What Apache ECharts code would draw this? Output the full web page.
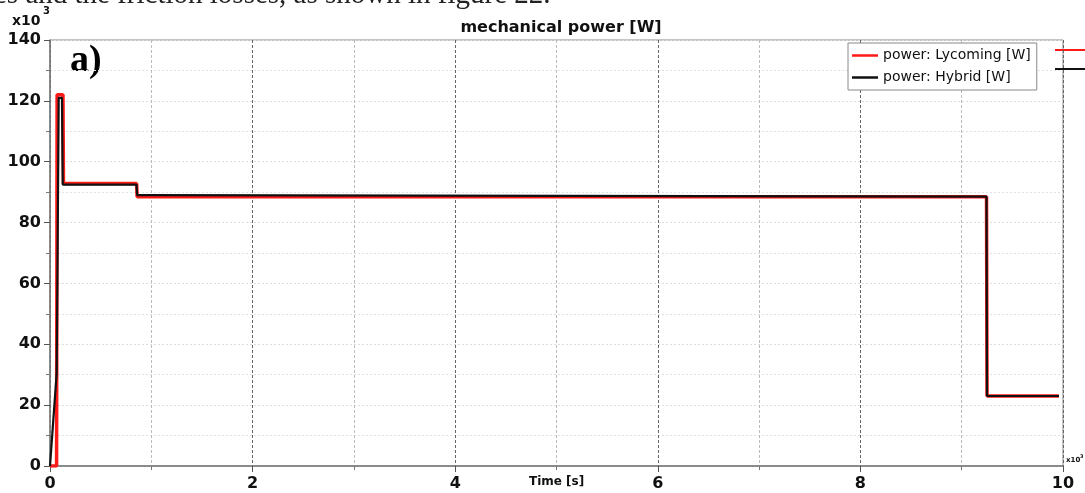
<!DOCTYPE html>
<html>
<head>
<meta charset="utf-8">
<script src="https://cdn.jsdelivr.net/npm/echarts@6/dist/echarts.min.js"></script>
<style>html,body{margin:0;padding:0;background:#fff}#c{width:1085px;height:493px}</style>
</head>
<body>
<div id="c"></div>
<script>
// Time in seconds, power in W x 10^3
const lycomingTime  = [0, 65, 70, 128, 133, 855, 860, 9245, 9250, 9960];
const lycomingPower = [0, 0, 122, 122, 92.8, 92.8, 88.5, 88.5, 23, 23];
const hybridTime  = [0, 10, 66, 86, 118, 126, 855, 860, 950, 955, 9245, 9250, 9960];
const hybridPower = [0, 0, 30.5, 121, 121, 92.5, 92.5, 89, 89, 88.5, 88.5, 23, 23];
const seriesNames = ['power: Lycoming [W]', 'power: Hybrid [W]'];
const chartTitle = 'mechanical power [W]';
const xAxisName = 'Time [s]';

const pairs = (t, v) => t.map((x, i) => [x, v[i]]);
const F = '"DejaVu Sans", Verdana, sans-serif';

const chart = echarts.init(document.getElementById('c'), null, {renderer: 'canvas'});
chart.setOption({
  animation: false,
  backgroundColor: '#fff',
  grid: {left: 50, right: 22, top: 40, bottom: 27, show: true, borderColor: '#888', borderWidth: 1},
  title: {text: chartTitle, left: 556, textAlign: 'center', top: 15,
    textStyle: {fontFamily: F, fontSize: 16, fontWeight: 'bold', color: '#111'}},
  legend: {
    orient: 'vertical', left: 848, top: 43,
    data: seriesNames,
    icon: 'rect',
    backgroundColor: '#fff', borderColor: '#888', borderWidth: 1,
    padding: [5, 6, 5, 4], itemGap: 7, itemWidth: 26, itemHeight: 2.5,
    textStyle: {fontFamily: F, fontSize: 14, color: '#111', lineHeight: 15}
  },
  xAxis: {
    type: 'value', min: 0, max: 10000, interval: 2000,
    axisLine: {show: true, lineStyle: {color: '#777', width: 1.5}},
    axisTick: {show: true, length: 6, lineStyle: {color: '#555'}},
    minorTick: {show: true, splitNumber: 2, length: 4, lineStyle: {color: '#777'}},
    axisLabel: {formatter: v => String(v / 1000), fontFamily: F, fontSize: 16, fontWeight: 'bold', color: '#111', margin: 10},
    splitLine: {show: true, lineStyle: {color: '#666', type: [3, 2], width: 1}},
    minorSplitLine: {show: true, lineStyle: {color: '#bbb', type: [3, 2], width: 1}}
  },
  yAxis: {
    type: 'value', min: 0, max: 140, interval: 20,
    axisLine: {show: true, lineStyle: {color: '#777', width: 1.5}},
    axisTick: {show: true, length: 6, lineStyle: {color: '#555'}},
    minorTick: {show: true, splitNumber: 2, length: 4, lineStyle: {color: '#777'}},
    axisLabel: {fontFamily: F, fontSize: 16, fontWeight: 'bold', color: '#111', margin: 9},
    splitLine: {show: true, lineStyle: {color: '#ddd', type: [2, 2], width: 1}},
    minorSplitLine: {show: true, lineStyle: {color: '#e2e2e2', type: [2, 2], width: 1}}
  },
  series: [
    {name: seriesNames[0], type: 'line', symbol: 'none', data: pairs(lycomingTime, lycomingPower),
      lineStyle: {color: '#ff1a1a', width: 3.5}, itemStyle: {color: '#ff1a1a'}},
    {name: seriesNames[1], type: 'line', symbol: 'none', data: pairs(hybridTime, hybridPower),
      lineStyle: {color: '#111', width: 2.2}, itemStyle: {color: '#111'}}
  ],
  graphic: [
    {type: 'text', left: -6, top: -19, style: {text: 'es and the friction losses, as shown in figure 22.',
      font: '29px "Liberation Serif", "DejaVu Serif", serif', fill: '#222'}},
    {type: 'text', left: 12, top: 14, style: {text: 'x10', font: 'bold 14px ' + F, fill: '#111'}},
    {type: 'text', left: 43, top: 6, style: {text: '3', font: 'bold 10px ' + F, fill: '#111'}},
    {type: 'text', left: 70, top: 42, style: {text: 'a)', font: 'bold 38px "Liberation Serif", "DejaVu Serif", serif', fill: '#000'}},
    {type: 'text', left: 529, top: 476, style: {text: xAxisName, font: 'bold 12px ' + F, fill: '#111'}},
    {type: 'text', left: 1066, top: 457, style: {text: 'x10', font: 'bold 7px ' + F, fill: '#111'}},
    {type: 'text', left: 1080, top: 454, style: {text: '3', font: 'bold 5px ' + F, fill: '#111'}},
    {type: 'line', shape: {x1: 1055, y1: 50, x2: 1085, y2: 50}, style: {stroke: '#ff1a1a', lineWidth: 2}},
    {type: 'line', shape: {x1: 1055, y1: 69, x2: 1085, y2: 69}, style: {stroke: '#111', lineWidth: 2}}
  ]
});
</script>
</body>
</html>
